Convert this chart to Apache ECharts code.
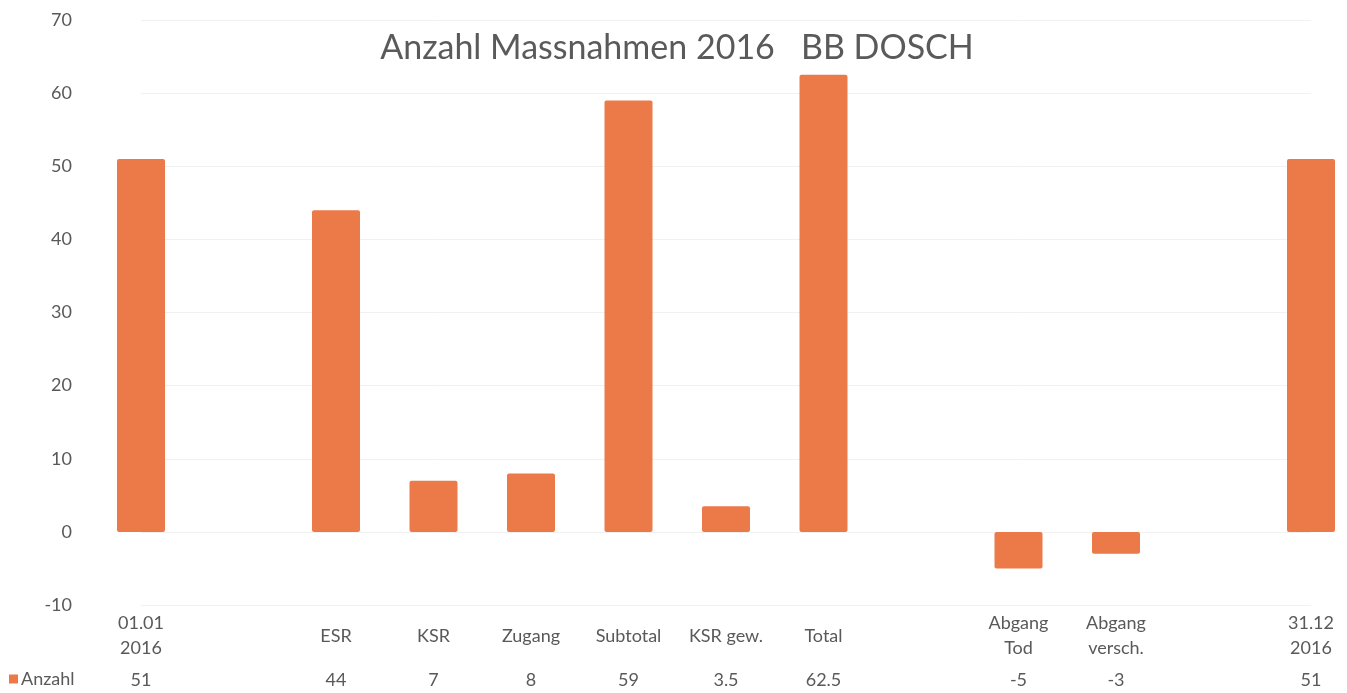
<!DOCTYPE html>
<html>
<head>
<meta charset="utf-8">
<script src="https://cdn.jsdelivr.net/npm/echarts@6/dist/echarts.min.js"></script>
<style>
  html, body { margin: 0; padding: 0; background: #fff; }
  #chart { width: 1347px; height: 693px; }
</style>
</head>
<body>
<div id="chart"></div>
<script>
// categories, empty strings are the gaps between groups
const categories = ['01.01\n2016', '', 'ESR', 'KSR', 'Zugang', 'Subtotal', 'KSR gew.', 'Total', '', 'Abgang\nTod', 'Abgang\nversch.', '', '31.12\n2016'];
const anzahl = [51, null, 44, 7, 8, 59, 3.5, 62.5, null, -5, -3, null, 51];
const yTicks = [-10, 0, 10, 20, 30, 40, 50, 60, 70];

const textColor = '#595959';
const barColor = '#EC7A48';
const font = 'Lato, "Open Sans", sans-serif';

const chart = echarts.init(document.getElementById('chart'));

// the last slot of the original is cut by the picture edge, so the axis
// runs from first to last category centre (boundaryGap false)
const option = {
  animation: false,
  textStyle: { fontFamily: font },
  title: {
    text: 'Anzahl Massnahmen 2016   BB DOSCH',
    left: 672,
    top: 26,
    textAlign: 'center',
    textStyle: { color: '#5a5a5a', fontSize: 34, fontWeight: 'normal', fontFamily: font }
  },
  legend: {
    left: 4,
    top: 665,
    icon: 'rect',
    itemWidth: 9,
    itemHeight: 9,
    itemGap: 4,
    textStyle: { color: textColor, fontSize: 18, padding: [0, 0, 0, -2] },
    data: ['Anzahl']
  },
  grid: { left: 141, right: 36, top: 20, bottom: 88 },
  xAxis: [
    {
      type: 'category',
      data: categories,
      boundaryGap: false,
      position: 'bottom',
      axisLine: { show: false, onZero: false },
      axisTick: { show: false },
      axisLabel: { color: textColor, fontSize: 18, margin: 31, verticalAlign: 'middle', lineHeight: 25, interval: 0 }
    },
    {
      type: 'category',
      data: anzahl.map(v => v === null ? '' : String(v)),
      boundaryGap: false,
      position: 'bottom',
      axisLine: { show: false, onZero: false },
      axisTick: { show: false },
      axisLabel: { color: textColor, fontSize: 18, margin: 75, verticalAlign: 'middle', interval: 0 }
    }
  ],
  yAxis: {
    type: 'value',
    min: yTicks[0],
    max: yTicks[yTicks.length - 1],
    interval: 10,
    axisLine: { show: false },
    axisTick: { show: false },
    axisLabel: { color: textColor, fontSize: 18, margin: 69 },
    splitLine: { lineStyle: { color: '#f1f1f1', width: 1 } }
  },
  series: [
    {
      name: 'Anzahl',
      type: 'bar',
      data: anzahl,
      barWidth: 48,
      clip: false,
      itemStyle: { color: barColor, borderRadius: 2 }
    }
  ]
};

chart.setOption(option);
</script>
</body>
</html>
